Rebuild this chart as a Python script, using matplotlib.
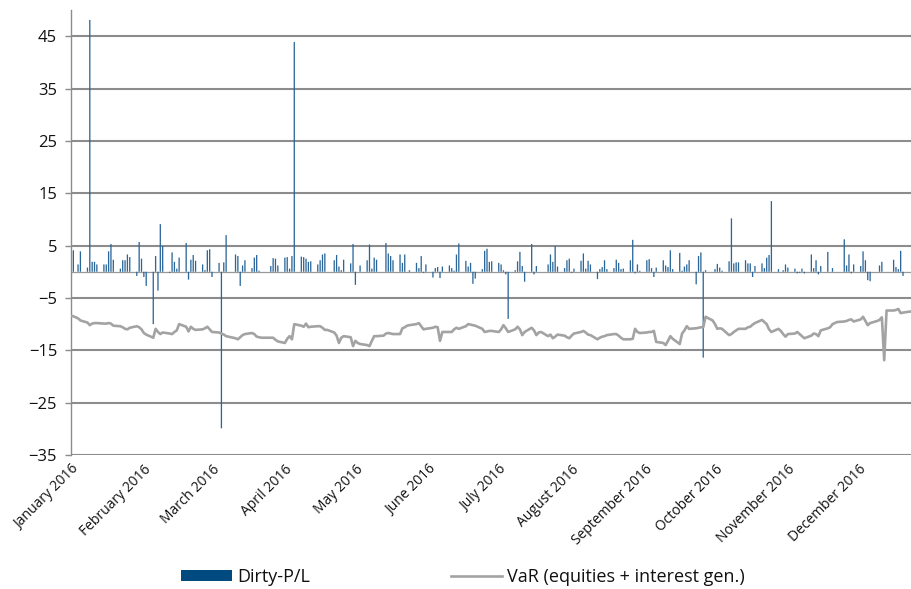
import matplotlib
matplotlib.use("Agg")
import matplotlib.pyplot as plt
import matplotlib.dates as mdates
from matplotlib.patches import Patch
from matplotlib.lines import Line2D
import numpy as np
import pandas as pd

plt.rcParams['font.family'] = ['Open Sans', 'DejaVu Sans']

# daily Dirty-P/L, one value per weekday (Mon-Fri), by month
pl_jan = [0.0, 4.1, 0.0, 1.4, 3.9, 0.8, 48.1, 1.9, 1.9, 1.4, 1.4, 1.4, 3.9, 5.3, 2.3,
          0.6, 2.2, 2.2, 3.3, 2.8]
pl_feb = [-0.8, 5.7, 2.5, -1.0, -2.7, -10.0, 3.0, -3.6, 9.1, 4.9, -0.2, 3.7, 1.9, 0.6, 2.7,
          5.5, -1.5, 2.3, 3.2, 2.1, 1.4]
pl_mar = [0.3, 4.1, 4.3, -1.0, 1.7, -29.9, 1.8, 7.0, 0.0, 3.3, 3.0, -2.7, 1.2, 2.2,
          0.7, 2.7, 3.2, 0.2, 0.0, 0.0, 1.1, 2.6, 2.5]
pl_apr = [1.2, 2.7, 2.8, 0.6, 3.0, 43.9, 2.9, 2.8, 2.5, 1.9, 2.0, 1.4, 2.2, 3.3, 3.5, 0.0,
          2.2, 3.2, 1.0, 0.3, 2.3]
pl_may = [1.6, 5.3, -2.5, 0.0, 1.2, 2.2, 5.2, 0.6, 2.7, 2.3, 0.0, 5.5, 3.5, 3.0, 2.2,
          3.3, 1.7, 3.3, 0.0, 0.3, 1.7, 0.7]
pl_jun = [3.0, -0.2, 1.4, -1.1, 0.7, 0.9, -1.2, 1.0, 1.2, 0.7, 0.2, 3.3, 5.4,
          2.1, 1.0, 1.7, -2.3, -1.3, 0.5, 4.0, 4.4, 1.9]
pl_jul = [2.0, 1.7, 1.4, 0.3, -0.5, -9.0, 0.3, 2.0, 3.8, 1.1, -1.9, 5.3, -0.5, 1.1, 0.0, 0.0,
          1.4, 3.3, 1.9, 4.9, 1.0]
pl_aug = [0.7, 2.2, 2.5, -0.2, 0.6, 2.1, 3.5, 0.6, 2.1, 1.4, -1.4, 0.5, 0.9, 2.2, 0.5,
          0.7, 2.3, 1.7, 0.5, 0.6, 2.2, 6.1, -0.3]
pl_sep = [1.4, 0.2, 2.2, 2.4, 0.7, -1.0, 0.8, 2.2, 1.2, 0.9, 4.1, 0.5, 3.6, 0.2, 1.0, 1.4, 2.2,
          -2.4, 3.0, 3.7, -16.4, 0.3]
pl_oct = [0.0, 0.5, 1.5, 0.8, 0.2, 2.0, 10.2, 1.6, 1.8, 1.8, 2.2, 1.6, 1.6, -1.0, 1.1,
          1.6, 0.7, 2.7, 3.2, 13.5, 0.5]
pl_nov = [0.0, 0.3, 1.4, 0.8, 0.6, -0.3, -0.2, 0.6, -0.3, 3.3, 0.7, 2.2, -0.5, 1.1,
          3.8, 0.0, 0.7, 0.0, 0.0, 6.2, 1.2, 3.3]
pl_dec = [-0.3, 1.4, 1.1, 3.9, 2.2, -1.6, -1.8, 0.0, 1.2, 1.9, 0.0, 0.0, 2.3, 0.9, 0.5, 4.0, -0.8,
          0.0, 0.0, 0.0, 0.0, 0.0]

# daily VaR (equities + interest gen.)
var_jan = [-8.4, -8.5, -8.7, -8.9, -9.3, -9.7, -10.2, -9.9, -9.8, -9.8, -9.9, -9.9, -9.8, -9.9, -10.3,
           -10.4, -10.6, -10.9, -11.0, -10.7]
var_feb = [-10.4, -10.6, -11.0, -11.7, -12.0, -12.6, -10.9, -11.5, -11.9, -11.6, -11.8, -11.9, -11.5,
           -11.2, -10.0, -10.5, -11.4, -10.5, -10.9, -11.1, -11.0]
var_mar = [-10.8, -10.5, -11.0, -11.5, -11.6, -11.8, -12.0, -12.3, -12.4, -12.7, -12.9, -12.5, -12.1,
           -11.9, -11.7, -11.9, -12.4, -12.5, -12.6, -12.6, -12.6, -12.6, -13.0]
var_apr = [-13.3, -13.6, -12.8, -12.3, -12.9, -10.0, -10.3, -10.5, -9.9, -10.6, -10.5, -10.4, -10.4,
           -10.7, -11.1, -11.1, -11.6, -12.2, -13.6, -12.6, -12.3]
var_may = [-12.5, -14.2, -13.2, -13.6, -13.8, -14.0, -14.2, -13.2, -12.3, -12.3, -12.2, -11.8, -11.7,
           -11.8, -11.9, -11.9, -10.8, -10.6, -10.3, -10.2, -10.0, -9.8]
var_jun = [-10.4, -11.0, -10.9, -10.7, -10.5, -10.6, -13.2, -11.5, -11.5, -11.5, -11.0, -10.7, -10.9,
           -10.4, -10.0, -10.1, -10.2, -10.3, -10.9, -11.5, -11.4, -11.3]
var_jul = [-11.3, -11.5, -11.0, -10.2, -10.8, -11.5, -11.0, -10.5, -11.0, -12.1, -11.5, -10.7, -11.2,
           -12.1, -11.6, -11.5, -12.3, -12.0, -12.7, -12.4, -12.0]
var_aug = [-12.2, -12.5, -12.7, -12.2, -11.8, -11.5, -11.3, -11.6, -12.0, -12.1, -12.9, -12.6, -12.4,
           -12.3, -12.1, -11.9, -11.9, -12.2, -12.6, -12.9, -12.9, -12.8, -10.9]
var_sep = [-11.5, -11.7, -11.6, -11.5, -11.5, -11.3, -13.4, -13.6, -14.0, -13.2, -12.3, -12.8, -13.8,
           -11.8, -11.2, -10.4, -10.9, -10.8, -10.7, -10.6, -10.6, -8.6]
var_oct = [-9.3, -10.0, -10.9, -10.8, -10.9, -12.1, -11.9, -11.5, -11.2, -10.9, -10.9, -10.6, -10.5,
           -10.1, -9.8, -9.2, -9.6, -10.0, -11.0, -11.5, -10.9]
var_nov = [-11.3, -11.9, -12.4, -11.9, -11.8, -11.5, -11.9, -12.3, -12.7, -12.2, -11.8, -11.9, -12.3,
           -11.2, -10.8, -10.6, -10.0, -9.8, -9.6, -9.5, -9.4, -9.2]
var_dec = [-9.1, -9.5, -9.1, -8.6, -9.4, -10.2, -9.8, -9.4, -9.2, -8.7, -16.9, -7.4, -7.4, -7.3, -7.1,
           -7.9, -7.8, -7.6, -7.6, -7.6, -7.6, -7.6]

pnl = np.concatenate([pl_jan, pl_feb, pl_mar, pl_apr, pl_may, pl_jun,
                      pl_jul, pl_aug, pl_sep, pl_oct, pl_nov, pl_dec])
var = np.concatenate([var_jan, var_feb, var_mar, var_apr, var_may, var_jun,
                      var_jul, var_aug, var_sep, var_oct, var_nov, var_dec])
dates = pd.bdate_range('2016-01-04', '2016-12-30')
assert len(dates) == len(pnl) == len(var), (len(dates), len(pnl), len(var))

month_ticks = pd.date_range('2016-01-04', periods=12, freq=pd.DateOffset(months=1))

fig = plt.figure(figsize=(9.11, 5.89), dpi=100)
ax = fig.add_axes([71 / 911, 1 - 455 / 589, 1 - 71 / 911, (455 - 10) / 589])

grid_c = '#8c8c8c'
for yv in range(-35, 50, 10):
    ax.axhline(yv, color=grid_c, lw=1.5, zorder=1)
ax.axhline(0, color='#9a9a9a', lw=0.9, zorder=1)

bar_c = '#2a6699'
line_c = '#a3a3a3'
ax.bar(dates, pnl, width=0.55, color=bar_c, zorder=2, snap=False)
ax.plot(dates, var, color=line_c, lw=1.9, zorder=3)

start = mdates.date2num(pd.Timestamp('2016-01-04'))
ax.set_xlim(start + 0.3, start + 357.4)
ax.set_ylim(-35, 50)
ax.set_yticks(range(-35, 50, 10))
ax.set_xticks(month_ticks)
ax.set_xticklabels([d.strftime('%B %Y') for d in month_ticks], rotation=45,
                   ha='right', va='top', rotation_mode='anchor', fontsize=10)

for s in ['top', 'right', 'bottom']:
    ax.spines[s].set_visible(False)
ax.spines['left'].set_color(grid_c)
ax.spines['left'].set_linewidth(1.0)
ax.tick_params(axis='y', colors=grid_c, length=4, width=1, labelsize=12, labelcolor='#111111', pad=6)
ax.tick_params(axis='x', length=0, pad=5, labelcolor='#111111')

handles = [Patch(facecolor='#004a80', edgecolor='none'),
           Line2D([], [], color=line_c, lw=1.9)]
labels = ['Dirty-P/L', 'VaR (equities + interest gen.)']
fig.legend(handles, labels, loc='center', bbox_to_anchor=(463 / 911, 1 - 577 / 589), ncol=2,
           frameon=False, fontsize=13, handlelength=2.8, handleheight=0.6, columnspacing=7.8,
           handletextpad=0.3, labelcolor='#111111')

fig.savefig('out.png', dpi=100)
